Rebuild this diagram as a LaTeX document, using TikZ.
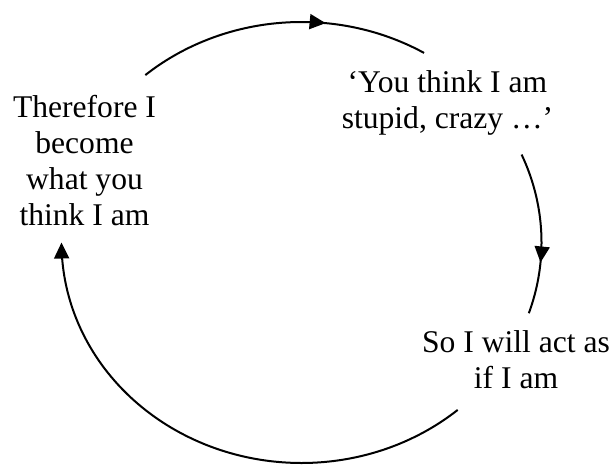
\documentclass[tikz,border=0pt]{standalone}
\usepackage{fontspec}
\setmainfont{Liberation Serif}
\usetikzlibrary{arrows.meta,decorations.markings}
\begin{document}
\begin{tikzpicture}[x=0.5pt,y=-0.5pt,
  lbl/.style={align=center,inner sep=0pt,anchor=north,font=\fontsize{15.8}{18}\selectfont},
  cyc/.style={line width=1pt},
  tip/.style={Triangle[length=8pt,width=7.5pt]},
  midarrow/.style={postaction={decorate},decoration={markings,mark=at position #1 with {\arrow{Triangle[length=8pt,width=7.5pt]}}}}]
\useasboundingbox (0,0) rectangle (613,465);
\node[lbl] (left) at (84.5,94.5) {Therefore I\\become\\what you\\think I am};
\node[lbl] (topright) at (447.5,70.5) {‘You think I am\\stupid, crazy …’};
\node[lbl] (botright) at (516,330.5) {So I will act as\\if I am};
\coordinate (c) at (301.5,242.5);
\draw[cyc,midarrow=0.65] plot[domain=130.6:59.3,samples=80] ({301.5+240*cos(\x)},{242.5-220.5*sin(\x)});
\draw[cyc,midarrow=0.68] plot[domain=23.5:-18.7,samples=60] ({301.5+240*cos(\x)},{242.5-220.5*sin(\x)});
\draw[cyc,-{Triangle[length=8pt,width=7.5pt]}] plot[domain=-49.4:-180,samples=120] ({301.5+240*cos(\x)},{242.5-220.5*sin(\x)});
\end{tikzpicture}
\end{document}
